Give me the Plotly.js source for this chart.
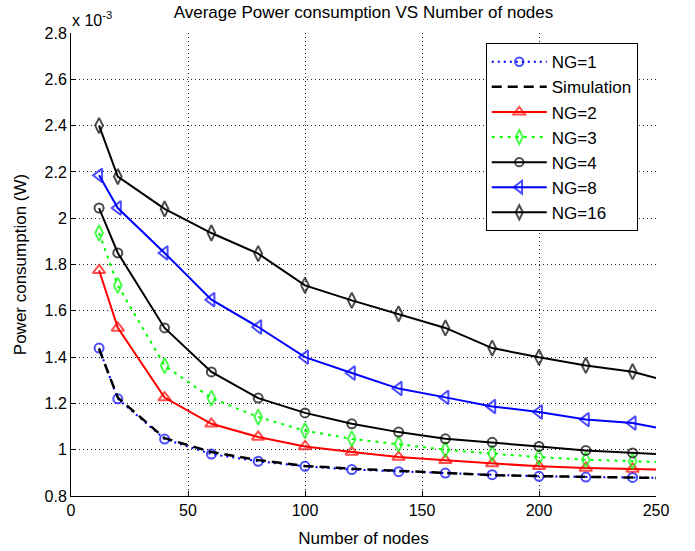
<!DOCTYPE html>
<html>
<head>
<meta charset="utf-8">
<script src="https://cdn.plot.ly/plotly-3.0.1.min.js"></script>
<style>html,body{margin:0;padding:0;background:#fff;}#chart{width:695px;height:551px;}</style>
</head>
<body>
<div id="chart"></div>
<script>
// Number of nodes (last value is the axis edge, drawn without a marker)
const nodes = [12, 20, 40, 60, 80, 100, 120, 140, 160, 180, 200, 220, 240, 250];

// Average power consumption, units of 1e-3 W
const ng1  = [1.439, 1.220, 1.046, 0.981, 0.950, 0.928, 0.914, 0.905, 0.899, 0.892, 0.885, 0.882, 0.880, 0.879];
const sim  = [1.435, 1.225, 1.050, 0.990, 0.955, 0.930, 0.918, 0.908, 0.900, 0.890, 0.886, 0.884, 0.882, 0.878];
const ng2  = [1.775, 1.526, 1.225, 1.112, 1.055, 1.014, 0.990, 0.968, 0.954, 0.940, 0.928, 0.921, 0.917, 0.914];
const ng3  = [1.936, 1.710, 1.363, 1.223, 1.141, 1.082, 1.047, 1.025, 1.000, 0.983, 0.968, 0.957, 0.950, 0.947];
const ng4  = [2.044, 1.850, 1.526, 1.336, 1.223, 1.159, 1.112, 1.076, 1.047, 1.032, 1.014, 0.997, 0.986, 0.981];
const ng8  = [2.185, 2.044, 1.850, 1.648, 1.530, 1.400, 1.331, 1.264, 1.226, 1.187, 1.163, 1.130, 1.115, 1.096];
const ng16 = [2.400, 2.180, 2.040, 1.936, 1.847, 1.710, 1.645, 1.587, 1.526, 1.439, 1.399, 1.364, 1.337, 1.310];

const xTicks = [0, 50, 100, 150, 200, 250];
const yTicks = [0.8, 1, 1.2, 1.4, 1.6, 1.8, 2, 2.2, 2.4, 2.6, 2.8];

const FONT = 'Liberation Sans, Arial, sans-serif';
function sizes(s) { return nodes.map((x, i) => (i === nodes.length - 1 ? 0 : s)); }

const traces = [
  {name: 'NG=1', y: ng1, line: {color: '#0000ff', width: 2, dash: '2px,4px'},
   marker: {symbol: 'circle-open', size: sizes(9), color: '#0000ff', line: {width: 2}}},
  {name: 'Simulation', y: sim, mode: 'lines', line: {color: '#000000', width: 2.5, dash: '10px,6px'}},
  {name: 'NG=2', y: ng2, line: {color: '#ff0000', width: 2},
   marker: {symbol: 'triangle-up-open', size: sizes(11), color: '#ff0000', line: {width: 2}}},
  {name: 'NG=3', y: ng3, line: {color: '#00ff00', width: 2, dash: '3px,5px'},
   marker: {symbol: 'diamond-tall-open', size: sizes(11), color: '#00ff00', line: {width: 2}}},
  {name: 'NG=4', y: ng4, line: {color: '#000000', width: 2},
   marker: {symbol: 'circle-open', size: sizes(9), color: '#000000', line: {width: 2}}},
  {name: 'NG=8', y: ng8, line: {color: '#0000ff', width: 2},
   marker: {symbol: 'triangle-left-open', size: sizes(12), color: '#0000ff', line: {width: 2}}},
  {name: 'NG=16', y: ng16, line: {color: '#000000', width: 2},
   marker: {symbol: 'diamond-tall-open', size: sizes(11), color: '#000000', line: {width: 2}}}
].map(t => Object.assign({type: 'scatter', x: nodes, mode: t.mode || 'lines+markers'}, t));

const layout = {
  width: 695, height: 551,
  margin: {l: 71, r: 39, t: 33, b: 55, pad: 0},
  paper_bgcolor: '#ffffff', plot_bgcolor: '#ffffff',
  font: {family: FONT, size: 16, color: '#000'},
  title: {text: 'Average Power consumption VS Number of nodes', font: {family: FONT, size: 17, color: '#000'},
          x: 0.5, xref: 'paper', y: 1 - 12 / 551, yref: 'container', yanchor: 'middle'},
  xaxis: {range: [0, 250], tickvals: xTicks, ticktext: xTicks.map(String),
          ticks: 'inside', ticklen: 5, tickcolor: '#000', showline: true, linecolor: '#000', linewidth: 1,
          showgrid: true, gridcolor: '#222', griddash: '1px,3px', gridwidth: 1, zeroline: false,
          tickfont: {family: FONT, size: 16}, title: {text: 'Number of nodes', font: {family: FONT, size: 17}, standoff: 13}},
  yaxis: {range: [0.8, 2.8], tickvals: yTicks, ticktext: yTicks.map(String),
          ticks: 'inside', ticklen: 5, tickcolor: '#000', showline: true, linecolor: '#000', linewidth: 1,
          showgrid: true, gridcolor: '#222', griddash: '1px,3px', gridwidth: 1, zeroline: false,
          tickfont: {family: FONT, size: 16}, title: {text: 'Power consumption (W)', font: {family: FONT, size: 17}, standoff: 13}},
  legend: {x: 0.709, y: 0.978, xanchor: 'left', yanchor: 'top', bgcolor: '#fff', bordercolor: '#000', borderwidth: 1,
           font: {family: FONT, size: 17}, itemwidth: 55, tracegroupgap: 0},
  annotations: [{text: 'x 10<sup>-3</sup>', xref: 'paper', yref: 'paper', x: 0, y: 1, xanchor: 'left', yanchor: 'bottom',
                 xshift: -1, yshift: 2, showarrow: false, font: {family: FONT, size: 16}}],
  showlegend: true
};

Plotly.newPlot('chart', traces, layout, {displayModeBar: false, staticPlot: true});
</script>
</body>
</html>
